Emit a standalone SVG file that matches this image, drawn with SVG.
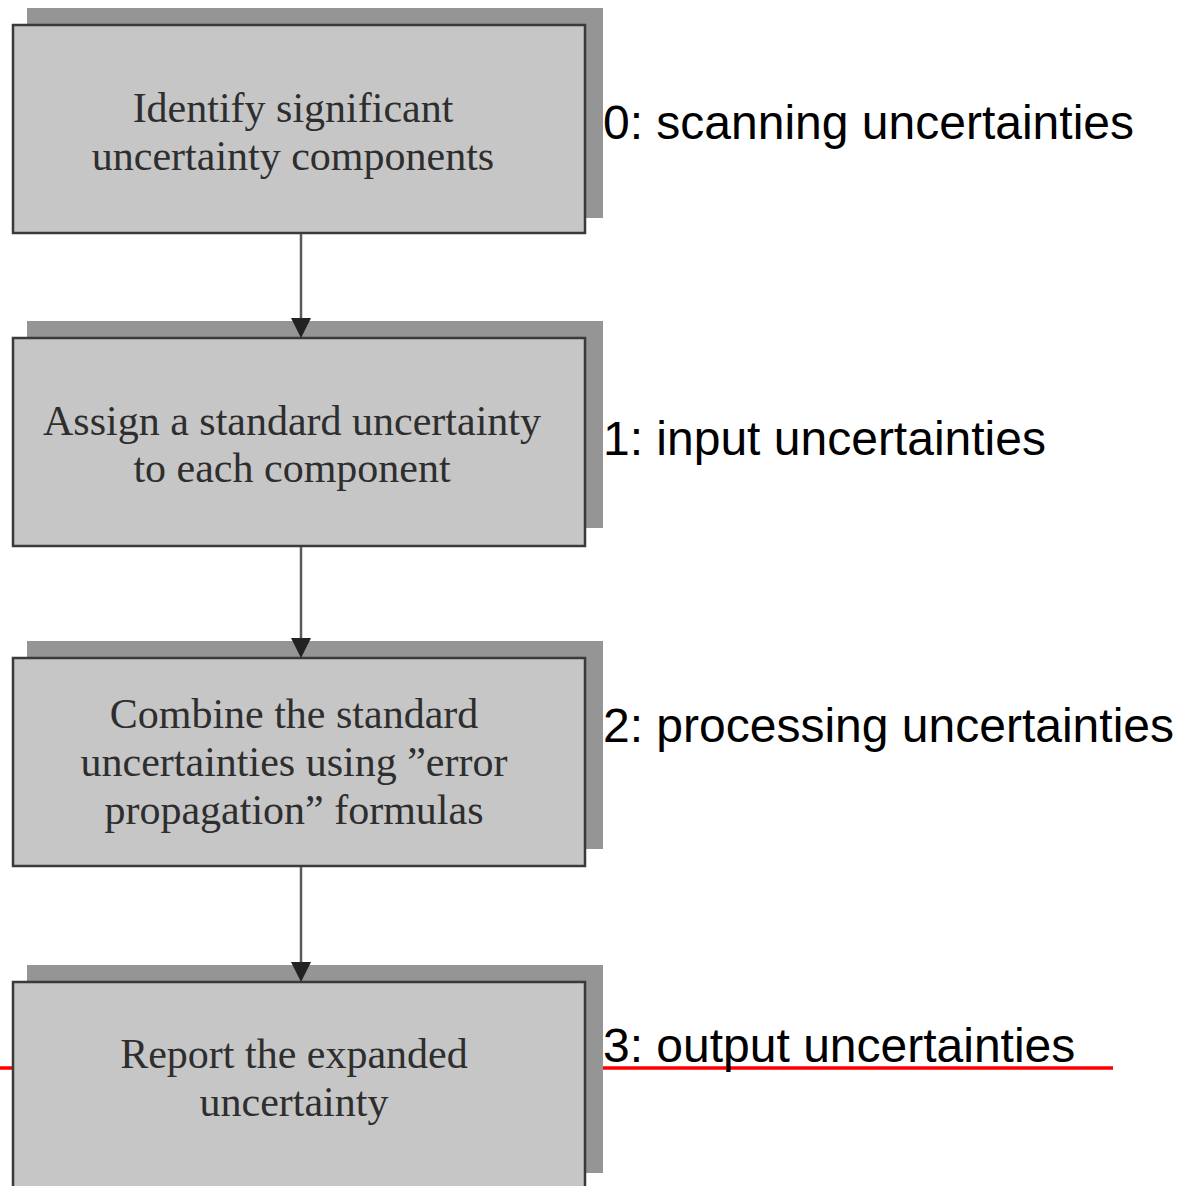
<svg xmlns="http://www.w3.org/2000/svg" width="1193" height="1186" viewBox="0 0 1193 1186">
<style>
.sh{fill:#959595}
.bx{fill:#c6c6c6;stroke:#3a3a3a;stroke-width:2.5}
.t{font-family:"Liberation Serif","Times New Roman",serif;font-size:42px;fill:#2e2e2e;text-anchor:middle}
.l{font-family:"Liberation Sans",Arial,sans-serif;font-size:48px;fill:#000}
.c{stroke:#5a5a5a;stroke-width:2.5;fill:none}
.ah{fill:#222}
</style>
<rect width="1193" height="1186" fill="#fff"/>
<g id="underline">
<line x1="0" y1="1068" x2="1113" y2="1068" stroke="#ff0000" stroke-width="3.5"/>
</g>
<g id="n0">
<rect class="sh" x="27" y="8" width="576" height="210"/>
<rect class="bx" x="13" y="25" width="572" height="208"/>
<text class="t" x="293" y="122">Identify significant</text>
<text class="t" x="293" y="170">uncertainty components</text>
</g>
<g id="n1">
<rect class="sh" x="27" y="321" width="576" height="207"/>
<rect class="bx" x="13" y="338" width="572" height="208"/>
<text class="t" x="292" y="435">Assign a standard uncertainty</text>
<text class="t" x="292" y="482">to each component</text>
</g>
<g id="n2">
<rect class="sh" x="27" y="641" width="576" height="208"/>
<rect class="bx" x="13" y="658" width="572" height="208"/>
<text class="t" x="294" y="728">Combine the standard</text>
<text class="t" x="294" y="776">uncertainties using ”error</text>
<text class="t" x="294" y="824">propagation” formulas</text>
</g>
<g id="n3">
<rect class="sh" x="27" y="965" width="576" height="208"/>
<rect class="bx" x="13" y="982" width="572" height="220"/>
<text class="t" x="294" y="1068">Report the expanded</text>
<text class="t" x="294" y="1116">uncertainty</text>
</g>
<g id="connectors">
<line x1="301" y1="234" x2="301" y2="320" class="c"/>
<path class="ah" d="M291,318 L311,318 L301,338 Z"/>
<line x1="301" y1="547" x2="301" y2="640" class="c"/>
<path class="ah" d="M291,638 L311,638 L301,658 Z"/>
<line x1="301" y1="867" x2="301" y2="964" class="c"/>
<path class="ah" d="M291,962 L311,962 L301,982 Z"/>
</g>
<g id="labels">
<text class="l" x="603" y="139">0: scanning uncertainties</text>
<text class="l" x="603" y="455">1: input uncertainties</text>
<text class="l" x="603" y="742">2: processing uncertainties</text>
<text class="l" x="603" y="1062">3: output uncertainties</text>
</g>
</svg>
